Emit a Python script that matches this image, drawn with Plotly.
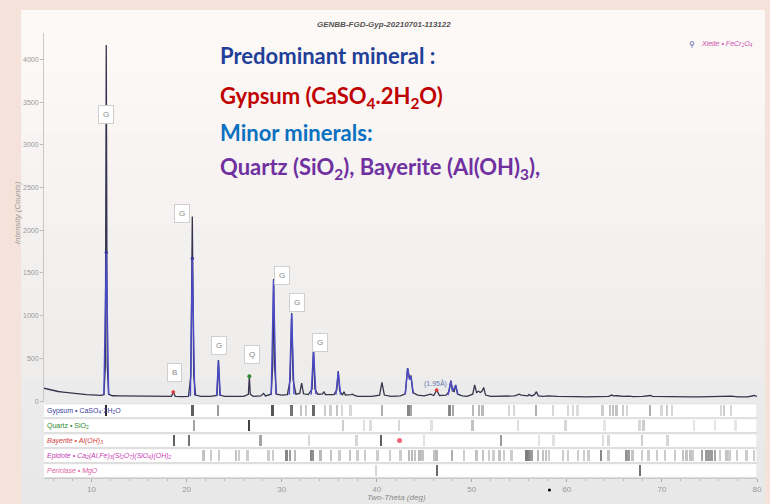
import plotly.graph_objects as go

# ---------------- data ----------------
two_theta = [5.0, 5.5, 6.0, 6.5, 7.0, 7.5, 8.0, 8.5, 9.0, 9.5, 10.0, 10.5, 11.0, 11.3, 11.45, 11.55, 11.65, 11.8,
             12.2, 13.0, 14.0, 15.0, 16.0, 17.0, 18.0, 18.4, 18.6, 18.8, 19.5, 20.2, 20.45, 20.6, 20.75, 20.95,
             21.5, 22.5, 23.2, 23.35, 23.5, 24.0, 25.0, 26.0, 26.5, 26.6, 26.7, 27.0, 27.8, 28.1, 28.3, 28.9,
             29.05, 29.15, 29.25, 29.45, 30.0, 30.6, 30.9, 31.05, 31.2, 31.5, 31.9, 32.1, 32.3, 32.8, 33.2,
             33.35, 33.5, 33.8, 34.3, 34.45, 34.6, 35.5, 35.8, 35.95, 36.1, 36.4, 36.55, 36.7, 37.3, 37.45,
             37.6, 38.0, 39.5, 40.3, 40.55, 40.8, 41.5, 42.5, 43.0, 43.25, 43.45, 43.6, 43.8, 44.1, 44.3, 45.0,
             45.5, 45.65, 46.0, 46.3, 46.6, 47.3, 47.6, 47.8, 47.95, 48.15, 48.3, 48.5, 49.0, 49.5, 50.1, 50.3,
             50.5, 50.7, 50.9, 51.1, 51.25, 51.45, 52.0, 53.5, 54.5, 55.0, 55.2, 55.9, 56.0, 56.3, 56.6, 56.8,
             57.0, 57.5, 58.0, 59.0, 60.0, 61.0, 62.0, 63.0, 63.5, 64.4, 64.7, 64.9, 65.3, 65.9, 66.5, 67.0,
             68.0, 68.8, 69.0, 70.0, 70.5, 71.0, 72.0, 73.0, 74.0, 75.0, 75.8, 76.3, 76.6, 77.3, 78.0, 79.0,
             79.7, 80.0]
counts = [150, 135, 125, 112, 105, 98, 92, 86, 80, 76, 72, 68, 66, 75, 400, 4170, 420, 80,
          62, 60, 58, 56, 55, 54, 52, 55, 105, 55, 52, 55, 300, 2160, 300, 70,
          55, 55, 65, 480, 70, 55, 55, 55, 80, 290, 80, 55, 60, 90, 60, 80,
          400, 1430, 420, 80, 70, 75, 250, 1030, 250, 80, 90, 210, 85, 75, 140,
          600, 140, 80, 85, 110, 75, 75, 130, 350, 120, 70, 110, 70, 75, 80,
          70, 55, 55, 70, 220, 70, 55, 60, 85, 385, 260, 300, 100, 85, 70, 60,
          75, 80, 65, 130, 65, 70, 110, 240, 120, 110, 190, 80, 60, 55, 80, 190,
          100, 115, 100, 120, 160, 70, 55, 55, 60, 80, 70, 60, 75, 60, 75, 110,
          60, 55, 60, 55, 50, 52, 50, 55, 50, 55, 70, 60, 62, 55, 58, 52,
          55, 65, 55, 52, 55, 50, 50, 48, 50, 52, 60, 60, 55, 58, 50, 50,
          65, 55]

fit_x = [11.3, 11.55, 11.8, None, 20.4, 20.6, 20.85, None, 23.15, 23.35, 23.55, None,
         28.9, 29.15, 29.4, None, 30.8, 31.05, 31.3, None, 33.1, 33.35, 33.6, None,
         35.7, 35.95, 36.2, None, 43.0, 43.25, 43.45, 43.6, 43.85, None,
         47.5, 47.8, 48.0, 48.3, 48.55]
fit_y = [70, 1740, 75, None, 60, 1670, 65, None, 60, 470, 60, None,
         75, 1420, 80, None, 75, 1020, 80, None, 75, 590, 80, None,
         75, 340, 75, None, 80, 380, 250, 290, 90, None,
         70, 235, 120, 185, 75]

peak_labels = ["G", "G", "G", "Q", "B", "G", "G", "G"]
label_x = [11.5, 19.5, 23.4, 26.9, 18.7, 30.0, 31.6, 34.0]
label_y = [3350, 2200, 655, 540, 340, 1465, 1150, 690]

phase_names = ["Gypsum • CaSO<sub>4</sub>·2H<sub>2</sub>O", "Quartz • SiO<sub>2</sub>",
               "<i>Bayerite • Al(OH)<sub>3</sub></i>",
               "<i>Epidote • Ca<sub>2</sub>(Al,Fe)<sub>3</sub>(Si<sub>2</sub>O<sub>7</sub>)(SiO<sub>4</sub>)(OH)<sub>2</sub></i>",
               "<i>Periclase • MgO</i>"]
phase_colors = ["#3c3c9c", "#2e8b2e", "#d43c3c", "#c83cb4", "#e0609c"]

gyp_pos = [11.6, 20.7, 23.4, 29.1, 31.1, 32.1, 32.6, 33.4, 34.6, 35.2, 35.9, 36.4, 37.3, 40.6, 43.4, 43.7,
           47.7, 48.1, 50.2, 50.8, 51.2, 54.0, 54.5, 56.8, 58.6, 60.2, 60.7, 61.2, 63.8, 64.6, 64.9, 65.3,
           66.0, 66.4, 68.8, 70.0, 70.6, 71.1, 76.3, 76.6, 77.3]
gyp_int = [100, 75, 45, 80, 65, 25, 20, 70, 20, 20, 25, 15, 15, 35, 55, 40,
           55, 40, 30, 30, 30, 15, 15, 35, 15, 15, 15, 12, 20, 25, 25, 25,
           20, 15, 35, 15, 20, 15, 15, 20, 15]
qtz_pos = [20.8, 26.6, 36.5, 38.7, 39.4, 42.4, 45.8, 50.1, 54.9, 59.9, 64.0, 67.7, 68.1, 73.4, 75.6, 77.8]
qtz_int = [40, 90, 20, 10, 12, 15, 10, 25, 12, 15, 8, 15, 20, 8, 8, 8]
bay_pos = [18.7, 20.3, 27.8, 32.9, 37.9, 40.5, 45.0, 53.1, 57.1, 58.6, 63.8, 64.4, 67.9, 70.6]
bay_int = [75, 65, 40, 15, 15, 75, 10, 45, 10, 10, 12, 15, 20, 15]
epi_pos = [21.8, 22.6, 23.4, 25.2, 25.5, 26.4, 28.6, 29.1, 30.5, 30.9, 31.4, 33.1, 33.3, 34.1, 35.2, 36.1,
           37.2, 38.0, 38.8, 40.1, 41.4, 42.5, 43.4, 43.7, 44.0, 44.5, 44.8, 46.0, 46.3, 47.9, 49.2, 50.5,
           51.2, 51.8, 52.3, 52.9, 53.4, 54.2, 55.7, 55.9, 56.0, 56.3, 57.0, 57.5, 57.8, 58.1, 59.6, 60.1,
           61.2, 61.8, 62.3, 63.6, 64.4, 66.2, 66.4, 66.5, 66.9, 67.9, 68.6, 69.5, 70.3, 71.4, 72.2, 72.6,
           73.0, 73.3, 74.2, 74.7, 75.0, 75.3, 75.6, 76.1, 76.8, 77.1, 77.9, 78.9, 79.7]
epi_int = [25, 20, 20, 25, 20, 20, 20, 20, 55, 45, 30, 55, 50, 30, 25, 20,
           25, 20, 20, 20, 20, 20, 30, 30, 25, 30, 25, 25, 30, 35, 20, 25,
           25, 20, 20, 25, 20, 20, 60, 60, 55, 45, 30, 25, 25, 20, 20, 20,
           20, 20, 20, 55, 25, 50, 50, 45, 25, 20, 20, 20, 20, 20, 25, 25,
           25, 20, 40, 45, 45, 45, 40, 20, 25, 20, 20, 20, 20]
per_pos = [39.9, 46.3, 67.7]
per_int = [15, 70, 65]

phase_pos = [gyp_pos, qtz_pos, bay_pos, epi_pos, per_pos]
phase_int = [gyp_int, qtz_int, bay_int, epi_int, per_int]

y_ticks = [0, 500, 1000, 1500, 2000, 2500, 3000, 3500, 4000]
x_ticks = [10, 20, 30, 40, 50, 60, 70, 80]

# ---------------- figure ----------------
W, H = 770, 504
L, R, T, B = 44, 8, 33, 26
pw, ph = W - L - R, H - T - B


def px(xp):
    return (xp - L) / pw


def py(yp):
    return (H - B - yp) / ph


fig = go.Figure()

fig.add_trace(go.Scatter(x=two_theta, y=counts, mode="lines",
                         line=dict(color="#34344e", width=1.3), hoverinfo="skip"))
fig.add_trace(go.Scatter(x=fit_x, y=fit_y, mode="lines",
                         line=dict(color="#4a4ac8", width=1.4), hoverinfo="skip"))
fig.add_trace(go.Scatter(x=[fit_x[1], fit_x[5]], y=[fit_y[1], fit_y[5]], mode="markers",
                         marker=dict(color="#3a3aa0", size=3.5)))
fig.add_trace(go.Scatter(x=[26.6], y=[290], mode="markers", marker=dict(color="#2e8b2e", size=4)))
fig.add_trace(go.Scatter(x=[18.6, 46.3], y=[105, 130], mode="markers",
                         marker=dict(color="#e03c3c", size=3.5, symbol="diamond")))


def gray(v):
    g = int(round(245 - v * 2.0))
    return f"rgb({g},{g},{g})"


for i, (pos, inten) in enumerate(zip(phase_pos, phase_int)):
    fig.add_trace(go.Bar(x=pos, y=[0.72] * len(pos), base=[i + 0.14] * len(pos), width=0.2,
                         marker=dict(color=[gray(v) for v in inten], line=dict(width=0)),
                         yaxis="y2", hoverinfo="skip"))

fig.add_trace(go.Scatter(x=[42.4], y=[2.5], mode="markers", yaxis="y2",
                         marker=dict(color="#f06478", size=5)))

shapes = []
n_band = 16
top_c = (253, 249, 247)
bot_c = (232, 232, 232)
y_top, y_bot = 10, 504
for k in range(n_band):
    f = k / (n_band - 1)
    c = tuple(int(round(top_c[j] + (bot_c[j] - top_c[j]) * f)) for j in range(3))
    y0p = y_top + (y_bot - y_top) * k / n_band
    y1p = y_top + (y_bot - y_top) * (k + 1) / n_band
    shapes.append(dict(type="rect", xref="paper", yref="paper", x0=px(21), x1=px(770),
                       y0=py(y1p) - 0.001, y1=py(y0p), fillcolor="rgb(%d,%d,%d)" % c,
                       line=dict(width=0), layer="below"))

for i in range(5):
    shapes.append(dict(type="rect", xref="x", yref="y2", x0=4.8, x1=80, y0=i + 0.04, y1=i + 0.96,
                       fillcolor="white", line=dict(color="#d8d8d8", width=0.8), layer="below"))

shapes.append(dict(type="circle", xref="paper", yref="paper", x0=px(551.5), x1=px(554.5),
                   y0=py(491.5), y1=py(488.5), fillcolor="black", line=dict(width=0)))

ann = []


def pann(text, xp, yp, size, color, family="Liberation Sans", xanchor="center", **kw):
    ann.append(dict(text=text, x=px(xp), y=py(yp), xref="paper", yref="paper", showarrow=False,
                    xanchor=xanchor, yanchor="middle", font=dict(family=family, size=size, color=color), **kw))


pann("<b><i>GENBB-FGD-Gyp-20210701-113122</i></b>", 386, 25, 8, "#555")
pann("<i>Xieite • FeCr<sub>2</sub>O<sub>4</sub></i>", 704, 44, 7, "#d050b0", xanchor="left")
pann("⚲", 697, 44, 8, "#5060b0", family="DejaVu Sans")
pann("<i>Intensity (Counts)</i>", 17, 213, 8, "#9a9a9a", textangle=-90)
pann("<i>Two-Theta (deg)</i>", 399, 497, 8, "#888")

ann.append(dict(text="(1.95Å)", x=46.2, y=200, xref="x", yref="y", showarrow=False,
                font=dict(family="Liberation Sans", size=7, color="#6a7ab0")))

tf = "Lato"
pann("<b>Predominant mineral :</b>", 219, 56, 22, "#1f3f99", family=tf, xanchor="left")
pann("<b>Gypsum (CaSO<sub>4</sub>.2H<sub>2</sub>O)</b>", 219, 97, 22, "#c00000", family=tf, xanchor="left")
pann("<b>Minor minerals:</b>", 219, 132, 22, "#0a70c0", family=tf, xanchor="left")
pann("<b>Quartz (SiO<sub>2</sub>), Bayerite (Al(OH)<sub>3</sub>),</b>", 219, 168, 22, "#7030a0",
     family=tf, xanchor="left")

for t, xv, yv in zip(peak_labels, label_x, label_y):
    ann.append(dict(text=t, x=xv, y=yv, xref="x", yref="y", showarrow=False,
                    bgcolor="white", bordercolor="#cfcfcf", borderwidth=1, borderpad=4,
                    font=dict(family="Liberation Sans", size=8, color="#888")))

for i, (nm, col) in enumerate(zip(phase_names, phase_colors)):
    ann.append(dict(text=nm, x=5.15, y=i + 0.5, xref="x", yref="y2", xanchor="left", yanchor="middle",
                    showarrow=False, font=dict(family="Liberation Sans", size=7, color=col)))

fig.update_layout(
    width=W, height=H,
    margin=dict(l=L, r=R, t=T, b=B),
    paper_bgcolor="#f5e3db", plot_bgcolor="rgba(0,0,0,0)",
    showlegend=False, bargap=0,
    shapes=shapes, annotations=ann,
    xaxis=dict(range=[5, 80], anchor="y2", tickvals=x_ticks, ticks="outside", ticklen=3,
               tickcolor="#aaa", showline=True, linecolor="#c8c8c8", showgrid=False, zeroline=False,
               tickfont=dict(family="Liberation Sans", size=8, color="#999"),
               minor=dict(dtick=2, ticks="outside", ticklen=2, tickcolor="#bbb")),
    yaxis=dict(domain=[0.171, 1], range=[-10, 4310], tickvals=y_ticks, ticks="outside", ticklen=3,
               tickcolor="#bbb", showline=True, linecolor="#c8c8c8", showgrid=False, zeroline=False,
               tickfont=dict(family="Liberation Sans", size=7, color="#999")),
    yaxis2=dict(domain=[0, 0.168], range=[5, 0], visible=False),
)

fig.write_html("out.html", config={"displayModeBar": False},
               post_script="document.body.style.margin='0';document.body.style.background='#f5e3db';")
